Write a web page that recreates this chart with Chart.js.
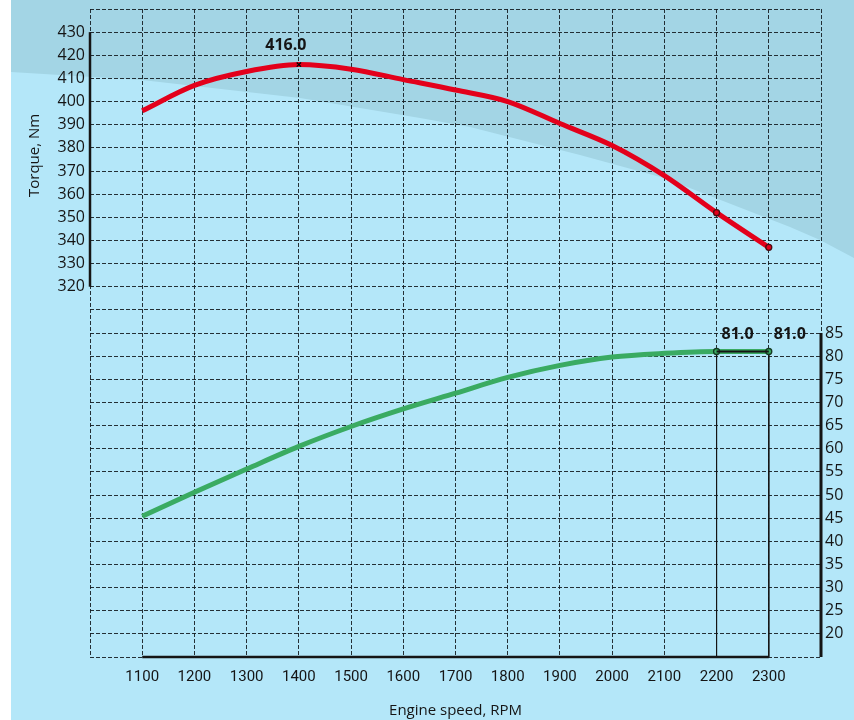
<!DOCTYPE html>
<html><head><meta charset="utf-8">
<script src="https://cdn.jsdelivr.net/npm/chart.js@4.4.0/dist/chart.umd.min.js"></script>
<style>html,body{margin:0;padding:0;background:#fff}canvas{display:block}</style>
</head><body>
<canvas id="c" width="854" height="720"></canvas>
<script>
// ---- data ----
const rpm = [1100, 1200, 1300, 1400, 1500, 1600, 1700, 1800, 1900, 2000, 2100, 2200, 2300];
const torqueNm = [396, 407, 413, 416, 414, 409.5, 405, 400, 390.5, 381, 368, 352, 337];
const powerKw = [45.4, 50.6, 55.6, 60.5, 64.8, 68.6, 72, 75.4, 78, 79.8, 80.6, 81, 81];

// axis ranges and visible tick label ranges
const rpmAxis = [1000, 2400];
const rpmLabelRange = [1100, 2300];
const torqueAxis = [160, 440];
const torqueLabelRange = [320, 430];
const powerAxis = [15, 155];
const powerLabelRange = [20, 85];

const xTitle = 'Engine speed, RPM';
const yTitle = 'Torque, Nm';

// ---- derived ----
const torquePts = rpm.map((x, i) => ({x, y: torqueNm[i]}));
const powerPts = rpm.map((x, i) => ({x, y: powerKw[i]}));
const peakIdx = torqueNm.indexOf(Math.max(...torqueNm));
const lastIdx = [rpm.length - 2, rpm.length - 1];

const RED = '#e3001b', GREEN = '#3aab62', INK = '#151515';
const MAIN_FONT = "'Open Sans', 'Noto Sans', sans-serif";
const NARROW_FONT = "'Roboto', 'Open Sans', sans-serif";

const torqueMarkerStyle = rpm.map((_, i) => i === peakIdx ? 'crossRot' : 'circle');
const torqueMarkerRadius = rpm.map((_, i) => (i === peakIdx || lastIdx.includes(i)) ? 3 : 0);
const powerMarkerRadius = rpm.map((_, i) => lastIdx.includes(i) ? 3 : 0);

const bgPlugin = {
  id: 'bg',
  beforeDraw(chart) {
    const ctx = chart.ctx, W = chart.width, H = chart.height;
    ctx.save();
    ctx.fillStyle = '#ffffff';
    ctx.fillRect(0, 0, W, H);
    ctx.fillStyle = '#b4e7f9';
    ctx.fillRect(11, 0, W - 11, H);
    // decorative darker band at top
    const edge = [[11,72],[142,80],[300,98],[420,118],[470,127],[580,155],[664,178],[790,227],[820,240],[854,258]];
    ctx.fillStyle = '#a3d5e5';
    ctx.beginPath();
    ctx.moveTo(11, 0);
    ctx.lineTo(W, 0);
    for (let i = edge.length - 1; i >= 0; i--) ctx.lineTo(edge[i][0], edge[i][1]);
    ctx.closePath();
    ctx.fill();
    ctx.restore();
  }
};

const axisPlugin = {
  id: 'axisLines',
  beforeDatasetsDraw(chart) {
    const ctx = chart.ctx, a = chart.chartArea, s = chart.scales;
    ctx.save();
    ctx.strokeStyle = INK;
    ctx.lineCap = 'butt';
    ctx.lineWidth = 2.5;
    ctx.beginPath();
    ctx.moveTo(a.left, s.y.getPixelForValue(torqueLabelRange[1]));
    ctx.lineTo(a.left, s.y.getPixelForValue(torqueLabelRange[0]));
    ctx.stroke();
    ctx.lineWidth = 3;
    ctx.beginPath();
    ctx.moveTo(a.right, s.y1.getPixelForValue(powerLabelRange[1]));
    ctx.lineTo(a.right, a.bottom);
    ctx.stroke();
    ctx.lineWidth = 2.5;
    ctx.beginPath();
    ctx.moveTo(s.x.getPixelForValue(rpmLabelRange[0]), a.bottom);
    ctx.lineTo(s.x.getPixelForValue(rpmLabelRange[1]), a.bottom);
    ctx.stroke();
    // y title
    ctx.fillStyle = INK;
    ctx.font = '15px ' + MAIN_FONT;
    ctx.textAlign = 'center';
    ctx.textBaseline = 'middle';
    const cy = (s.y.getPixelForValue(torqueLabelRange[1]) + s.y.getPixelForValue(torqueLabelRange[0])) / 2 - 4;
    ctx.translate(35, cy);
    ctx.rotate(-Math.PI / 2);
    ctx.fillText(yTitle, 0, 0);
    ctx.restore();
  }
};

const labelPlugin = {
  id: 'valueLabels',
  afterDatasetsDraw(chart) {
    const ctx = chart.ctx;
    ctx.save();
    ctx.fillStyle = INK;
    ctx.font = 'bold 16px ' + MAIN_FONT;
    ctx.textBaseline = 'middle';
    const tMeta = chart.getDatasetMeta(0);
    const p = tMeta.data[peakIdx];
    ctx.textAlign = 'center';
    ctx.fillText(torqueNm[peakIdx].toFixed(1), p.x - 13, p.y - 19);
    const pMeta = chart.getDatasetMeta(1);
    ctx.textAlign = 'left';
    lastIdx.forEach(i => {
      const q = pMeta.data[i];
      ctx.fillText(powerKw[i].toFixed(1), q.x + 5, q.y - 17);
    });
    ctx.restore();
  }
};

const gridCommon = {color: 'rgba(20,28,32,0.9)', lineWidth: 1, drawTicks: false};
const borderCommon = {display: false, dash: [4, 2]};
const noVPad = s => { s.paddingTop = 0; s.paddingBottom = 0; };

new Chart(document.getElementById('c'), {
  type: 'line',
  data: {
    datasets: [
      {
        label: 'Torque', data: torquePts, yAxisID: 'y', order: 3,
        borderColor: RED, borderWidth: 5, cubicInterpolationMode: 'monotone',
        pointStyle: torqueMarkerStyle, pointRadius: torqueMarkerRadius,
        pointBackgroundColor: RED, pointBorderColor: rpm.map((_, i) => i === peakIdx ? '#000' : '#4a0a10'),
        pointBorderWidth: 1.3
      },
      {
        label: 'Power', data: powerPts, yAxisID: 'y1', order: 4,
        borderColor: GREEN, borderWidth: 5, cubicInterpolationMode: 'monotone',
        pointRadius: powerMarkerRadius, pointBackgroundColor: GREEN,
        pointBorderColor: '#143a22', pointBorderWidth: 1.3
      },
      {
        label: 'rated segment', data: lastIdx.map(i => powerPts[i]), yAxisID: 'y1', order: 2,
        borderColor: INK, borderWidth: 2, pointRadius: 0
      },
      ...lastIdx.map(i => ({
        label: 'drop ' + rpm[i], data: [powerPts[i], {x: rpm[i], y: powerAxis[0]}], yAxisID: 'y1', order: 5,
        borderColor: INK, borderWidth: 1, pointRadius: 0
      }))
    ]
  },
  options: {
    responsive: false,
    animation: false,
    events: [],
    layout: {padding: {top: 9, left: 0, right: 0, bottom: 0}},
    plugins: {legend: {display: false}, tooltip: {enabled: false}},
    scales: {
      x: {
        type: 'linear', min: rpmAxis[0], max: rpmAxis[1],
        grid: gridCommon, border: borderCommon,
        ticks: {
          stepSize: 100, autoSkip: false, maxRotation: 0, padding: 11, color: INK,
          font: {family: NARROW_FONT, size: 15},
          callback: v => (v >= rpmLabelRange[0] && v <= rpmLabelRange[1]) ? String(v) : ''
        },
        title: {display: true, text: xTitle, color: INK, font: {family: MAIN_FONT, size: 15}, padding: {top: 0, bottom: 0}},
        afterFit: s => { s.height = 63; s.paddingLeft = 0; s.paddingRight = 0; }
      },
      y: {
        type: 'linear', position: 'left', min: torqueAxis[0], max: torqueAxis[1],
        grid: gridCommon, border: borderCommon,
        ticks: {
          stepSize: 10, autoSkip: false, padding: 5, color: INK,
          font: {family: MAIN_FONT, size: 16},
          callback: v => (v >= torqueLabelRange[0] && v <= torqueLabelRange[1]) ? String(v) : ''
        },
        afterFit: s => { s.width = 90; noVPad(s); }
      },
      y1: {
        type: 'linear', position: 'right', min: powerAxis[0], max: powerAxis[1],
        grid: {display: false, drawTicks: false}, border: {display: false},
        ticks: {
          stepSize: 5, autoSkip: false, padding: 4, color: INK,
          font: {family: MAIN_FONT, size: 16},
          callback: v => (v >= powerLabelRange[0] && v <= powerLabelRange[1]) ? String(v) : ''
        },
        afterFit: s => { s.width = 33; noVPad(s); }
      }
    }
  },
  plugins: [bgPlugin, axisPlugin, labelPlugin]
});
</script>
</body></html>
